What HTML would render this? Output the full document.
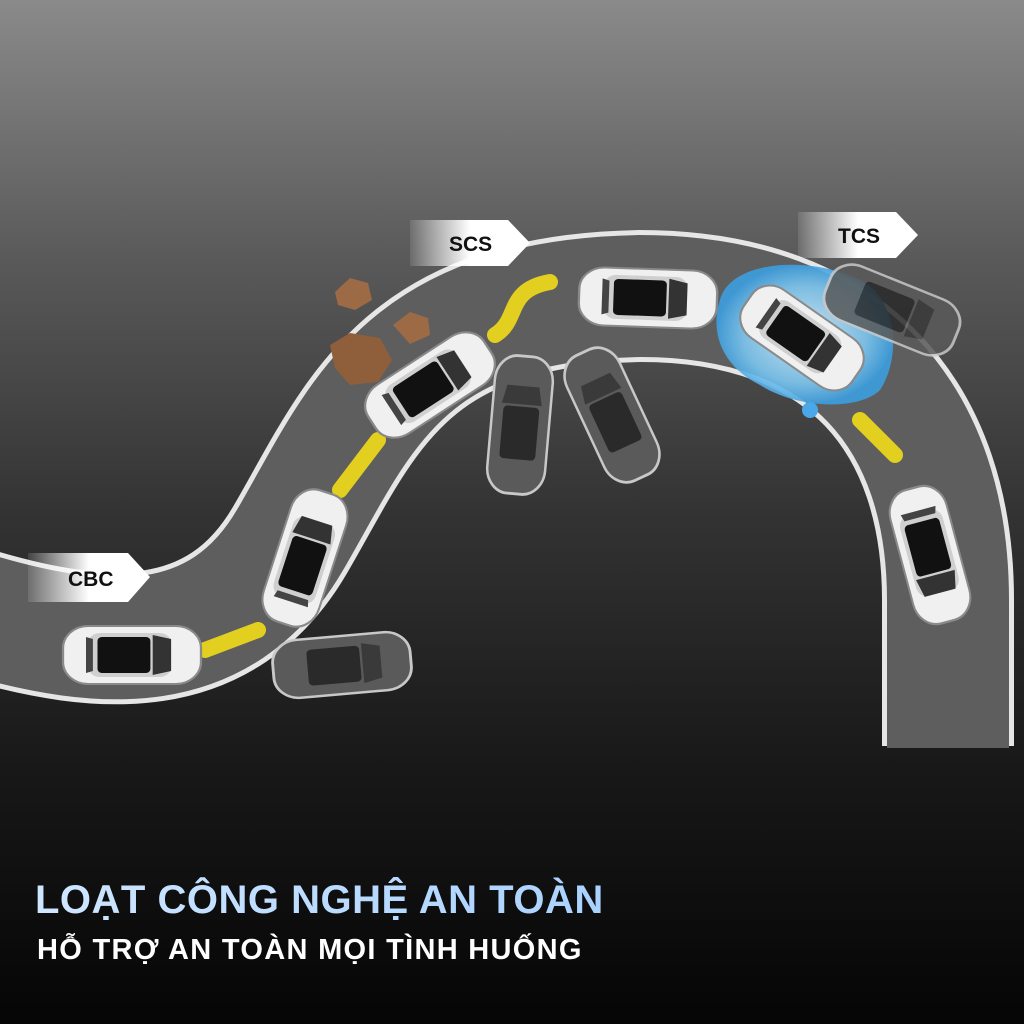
<!DOCTYPE html>
<html><head><meta charset="utf-8"><style>
html,body{margin:0;padding:0;width:1024px;height:1024px;overflow:hidden;background:#000}
svg{display:block}
</style></head><body>
<svg width="1024" height="1024" viewBox="0 0 1024 1024" xmlns="http://www.w3.org/2000/svg">
<defs>
<linearGradient id="bg" x1="0" y1="0" x2="0" y2="1">
<stop offset="0" stop-color="#8a8a8a"/><stop offset="0.25" stop-color="#5a5a5a"/><stop offset="0.5" stop-color="#333"/><stop offset="0.75" stop-color="#181818"/><stop offset="1" stop-color="#050505"/>
</linearGradient>
<linearGradient id="tag" x1="0" y1="0" x2="1" y2="0">
<stop offset="0" stop-color="#fff" stop-opacity="0.1"/><stop offset="0.5" stop-color="#fff"/><stop offset="1" stop-color="#fff"/>
</linearGradient>
<linearGradient id="ttl" x1="0" y1="0" x2="1" y2="0">
<stop offset="0" stop-color="#cfe6ff"/><stop offset="1" stop-color="#a9d2ff"/>
</linearGradient>
<radialGradient id="water" cx="0.5" cy="0.5" r="0.5">
<stop offset="0" stop-color="#d8f0ff"/><stop offset="0.7" stop-color="#7cc6f0"/><stop offset="1" stop-color="#3d9fe0"/>
</radialGradient>
<g id="car">
<rect x="-60" y="-29" width="120" height="58" rx="22" fill="#f0f0f0" stroke="#8a8a8a" stroke-width="2"/>
<rect x="-38" y="-22" width="72" height="44" rx="10" fill="#cfcfcf"/>
<rect x="-30" y="-18" width="46" height="36" rx="4" fill="#111"/>
<path d="M18 -20 L34 -16 L34 16 L18 20 Z" fill="#333"/>
<path d="M-40 -18 L-34 -16 L-34 16 L-40 18 Z" fill="#444"/>
</g>
<g id="ghost">
<rect x="-60" y="-29" width="120" height="58" rx="22" fill="#5a5a5a" stroke="#c8c8c8" stroke-width="2.5"/>
<rect x="-30" y="-18" width="46" height="36" rx="4" fill="#2a2a2a"/>
<path d="M18 -20 L34 -16 L34 16 L18 20 Z" fill="#3a3a3a"/>
</g>
</defs>
<rect width="1024" height="1024" fill="url(#bg)"/>
<path d="M -20 615 C 100 650, 220 660, 290 540 S 400 300, 640 296 C 850 296, 948 420, 948 600 L 948 746" fill="none" stroke="#e6e6e6" stroke-width="132"/>
<path d="M -20 615 C 100 650, 220 660, 290 540 S 400 300, 640 296 C 850 296, 948 420, 948 600 L 948 748" fill="none" stroke="#5e5e5e" stroke-width="122"/>
<g fill="none" stroke="#f2dc18" stroke-width="16" stroke-linecap="round">
<path d="M205 650 L258 630" opacity="0.9"/>
<path d="M340 490 L378 440" opacity="0.9"/>
<path d="M495 335 C520 320, 505 290, 550 282" opacity="0.9"/>
<path d="M860 420 L895 455" opacity="0.9"/>
</g>
<path d="M335 292 L350 278 L368 283 L372 300 L355 310 L338 305 Z" fill="#9c6a44"/>
<path d="M393 325 L410 312 L428 318 L430 335 L410 344 Z" fill="#9c6a44"/>
<path d="M330 345 L350 333 L380 338 L392 360 L378 382 L350 385 L335 368 Z" fill="#8f5e3a"/>
<path d="M720 300 C730 260,810 255,860 280 C900 300,900 360,880 390 C860 410,800 410,760 385 C720 365,710 330,720 300 Z" fill="url(#water)" opacity="0.9"/>
<circle cx="810" cy="410" r="8" fill="#4aa8e8"/>
<use href="#ghost" transform="translate(342,665) rotate(-5) scale(1.15,1)"/>
<use href="#ghost" transform="translate(520,425) rotate(-85) scale(1.15,1)"/>
<use href="#ghost" transform="translate(612,415) rotate(-115) scale(1.15,1)"/>
<use href="#car" transform="translate(132,655) rotate(0) scale(1.15,1)"/>
<use href="#car" transform="translate(305,558) rotate(-72) scale(1.15,1)"/>
<use href="#car" transform="translate(430,385) rotate(-33) scale(1.15,1)"/>
<use href="#car" transform="translate(648,298) rotate(2) scale(1.15,1)"/>
<g opacity="0.85"><use href="#ghost" transform="translate(892,310) rotate(22) scale(1.15,1)"/></g>
<use href="#car" transform="translate(802,338) rotate(35) scale(1.1,1)"/>
<use href="#car" transform="translate(930,555) rotate(75) scale(1.15,1)"/>
<g font-family="Liberation Sans, sans-serif" font-weight="bold" font-size="21" fill="#111">
<path d="M28 553 L128 553 L150 577 L128 602 L28 602 Z" fill="url(#tag)"/>
<text x="68" y="586">CBC</text>
<path d="M410 220 L508 220 L530 243 L508 266 L410 266 Z" fill="url(#tag)"/>
<text x="449" y="251">SCS</text>
<path d="M798 212 L896 212 L918 235 L896 258 L798 258 Z" fill="url(#tag)"/>
<text x="838" y="243">TCS</text>
</g>
<text x="35" y="913" font-family="Liberation Sans, sans-serif" font-weight="bold" font-size="40" letter-spacing="0.5" fill="url(#ttl)">LOẠT CÔNG NGHỆ AN TOÀN</text>
<text x="37" y="959" font-family="Liberation Sans, sans-serif" font-weight="bold" font-size="29" letter-spacing="1.3" fill="#fff">HỖ TRỢ AN TOÀN MỌI TÌNH HUỐNG</text>
</svg>
</body></html>
